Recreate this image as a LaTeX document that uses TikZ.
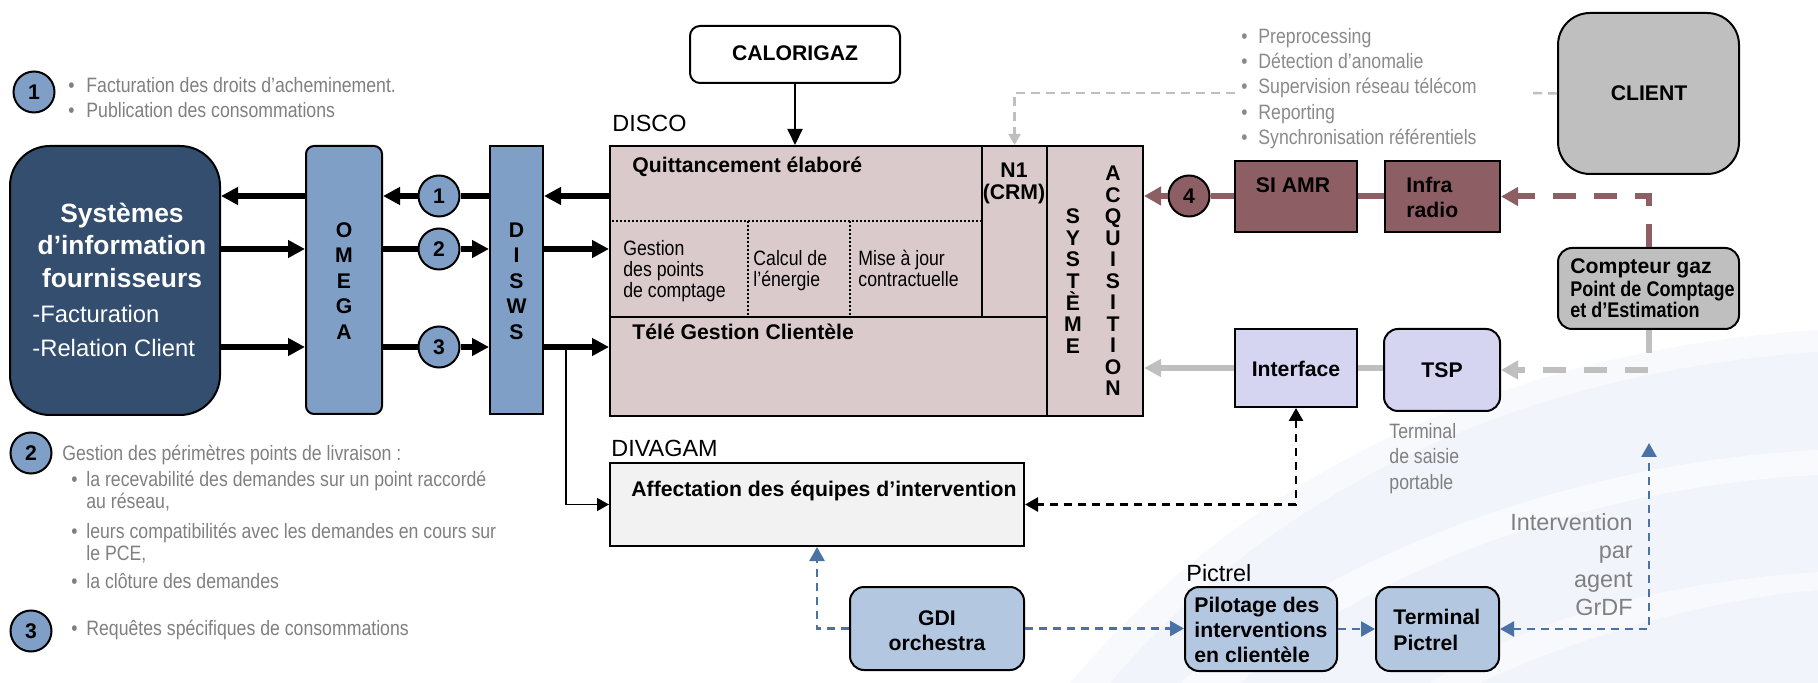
\documentclass[tikz,border=0pt]{standalone}
\usepackage{fontspec}
\setmainfont{Liberation Sans}
\newfontfamily\narrowfont[FakeStretch=0.85]{Liberation Sans}
\usetikzlibrary{arrows.meta,fit}

\definecolor{navy}{RGB}{52,78,112}
\definecolor{steel}{RGB}{127,159,198}
\definecolor{discofill}{RGB}{219,202,204}
\definecolor{mauve}{RGB}{142,94,101}
\definecolor{lavender}{RGB}{213,213,242}
\definecolor{silver}{RGB}{191,191,191}
\definecolor{paleblue}{RGB}{180,199,224}
\definecolor{dashblue}{RGB}{74,114,166}
\definecolor{txtgrey}{RGB}{128,128,128}
\definecolor{listgrey}{RGB}{138,138,138}
\definecolor{lightgrey}{RGB}{242,242,242}
\definecolor{bgblue}{RGB}{242,244,251}
\definecolor{bgedge}{RGB}{248,249,253}

\newcommand{\bul}[1]{\makebox[#1][l]{\textbullet}}

\begin{document}
\begin{tikzpicture}[x=0.5pt,y=-0.5pt,
  bx/.style={draw=black, line width=1pt, inner sep=0pt},
  bt/.style={font=\fontsize{10.6}{12.5}\selectfont\bfseries},
  nt/.style={font=\narrowfont\fontsize{10.4}{12.5}\selectfont},
  nbt/.style={font=\narrowfont\bfseries\fontsize{10.6}{12.5}\selectfont},
  lt/.style={font=\fontsize{11.7}{14}\selectfont},
  lbl/.style={inner sep=0pt, anchor=base west},
  cbl/.style={inner sep=0pt, anchor=base},
  vert/.style={inner sep=0pt, align=center, font=\fontsize{10.6}{#1}\selectfont\bfseries},
  num/.style={circle, draw=black, line width=1pt, minimum size=20.5pt, inner sep=0pt,
              font=\fontsize{10.6}{12}\selectfont\bfseries},
  fat/.style={line width=2.8pt},
  fathead/.style={-{Triangle[length=8.5pt,width=8.5pt]}},
  bluedash/.style={draw=dashblue, line width=1.3pt, dash pattern=on 4pt off 3pt},
  blackdash/.style={draw=black, line width=1.3pt, dash pattern=on 4pt off 3pt},
  greydash/.style={draw=silver, line width=1.2pt, dash pattern=on 4.5pt off 3pt},
  widedash/.style={line width=3pt, dash pattern=on 11.5pt off 9pt},
  dotline/.style={line width=0.9pt, dash pattern=on 0.9pt off 1.1pt}
]
\useasboundingbox (0,0) rectangle (1818,683);
\fill[white] (0,0) rectangle (1818,683);

% soft background swoosh (a pale rim, then the tinted body, then white streaks)
\fill[bgedge] (1070,683) .. controls (1250,470) and (1510,350) .. (1818,330) -- (1818,683) -- cycle;
\fill[bgblue] (1110,683) .. controls (1280,485) and (1525,372) .. (1818,352) -- (1818,683) -- cycle;
\fill[white, opacity=0.55] (1180,683) .. controls (1350,540) and (1600,460) .. (1818,450)
   -- (1818,475) .. controls (1610,485) and (1380,560) .. (1240,683) -- cycle;
\fill[white, opacity=0.5] (1430,683) .. controls (1540,610) and (1690,580) .. (1818,572)
   -- (1818,590) .. controls (1700,600) and (1570,640) .. (1480,683) -- cycle;

% ---------- legend, left ----------
\node[num, fill=steel] (k1) at (34,92) {1};
\node[lbl, nt, text=txtgrey] (k1a) at (68,92.3) {\bul{9pt}Facturation des droits d’acheminement.};
\node[lbl, nt, text=txtgrey] (k1b) at (68,118) {\bul{9pt}Publication des consommations};

\node[num, fill=steel] (k2) at (31,453) {2};
\node[lbl, nt, text=txtgrey] (k2a) at (62,460.7) {Gestion des périmètres points de livraison :};
\node[lbl, nt, text=txtgrey] (k2b) at (71,487) {\bul{7.5pt}la recevabilité des demandes sur un point raccordé};
\node[lbl, nt, text=txtgrey] (k2c) at (86,509) {au réseau,};
\node[lbl, nt, text=txtgrey] (k2d) at (71,538) {\bul{7.5pt}leurs compatibilités avec les demandes en cours sur};
\node[lbl, nt, text=txtgrey] (k2e) at (86,560) {le PCE,};
\node[lbl, nt, text=txtgrey] (k2f) at (71,588) {\bul{7.5pt}la clôture des demandes};

\node[num, fill=steel] (k3) at (31,631) {3};
\node[lbl, nt, text=txtgrey] (k3a) at (71,635) {\bul{7.5pt}Requêtes spécifiques de consommations};

% ---------- suppliers, OMEGA, DISWS ----------
\node[bx, fill=navy, rounded corners=20pt, fit={(10,146)(220,415)}] (sysinfo) {};
\node[cbl, text=white, font=\fontsize{13.2}{15}\selectfont\bfseries] (si1) at (122,223) {Systèmes};
\node[cbl, text=white, font=\fontsize{13.2}{15}\selectfont\bfseries] (si2) at (122,255) {d’information};
\node[cbl, text=white, font=\fontsize{13.2}{15}\selectfont\bfseries] (si3) at (122,288) {fournisseurs};
\node[lbl, text=white, font=\fontsize{11.9}{14}\selectfont] (si4) at (32,323) {-Facturation};
\node[lbl, text=white, font=\fontsize{11.9}{14}\selectfont] (si5) at (32,357) {-Relation Client};

\node[bx, fill=steel, rounded corners=4pt, fit={(306,146)(382,414)}] (omega) {};
\node[vert=12.75] (omegaT) at (344,281) {O\\M\\E\\G\\A};
\node[bx, fill=steel, fit={(490,146)(543,414)}] (disws) {};
\node[vert=12.75] (diswsT) at (516.5,281) {D\\I\\S\\W\\S};

\node[num, fill=steel] (c1) at (439,196) {1};
\node[num, fill=steel] (c2) at (439,249) {2};
\node[num, fill=steel] (c3) at (439,347) {3};

% ---------- CALORIGAZ and DISCO ----------
\node[bx, fill=white, rounded corners=5pt, fit={(690,26)(900,83)}] (calor) {};
\node[cbl, bt] (calorT) at (795,61) {CALORIGAZ};
\node[lbl, lt] (discolbl) at (612,131.7) {DISCO};
\node[bx, fill=discofill, fit={(610,146)(1143,416)}] (disco) {};
\node[bx, fit={(982,146)(1047,317)}] (n1) {};
\node[bx, fit={(1047,146)(1143,416)}] (acq) {};
\draw[line width=1pt] (610,317) -- (982,317);
\draw[dotline] (612,221) -- (982,221);
\draw[dotline] (748,221) -- (748,317);
\draw[dotline] (850,221) -- (850,317);

\node[lbl, bt] (quitt) at (632,172.7) {Quittancement élaboré};
\node[lbl, nt] (gest1) at (623,256) {Gestion};
\node[lbl, nt] (gest2) at (623,277) {des points};
\node[lbl, nt] (gest3) at (623,298) {de comptage};
\node[lbl, nt] (calc1) at (753,266) {Calcul de};
\node[lbl, nt] (calc2) at (753,287) {l’énergie};
\node[lbl, nt] (maj1) at (858,266) {Mise à jour};
\node[lbl, nt] (maj2) at (858,287) {contractuelle};
\node[lbl, bt] (tele) at (632,340) {Télé Gestion Clientèle};
\node[cbl, bt] (n1a) at (1014,178) {N1};
\node[cbl, bt] (n1b) at (1014,200) {(CRM)};
\node[vert=10.85] (sysv) at (1073,281) {S\\Y\\S\\T\\È\\M\\E};
\node[vert=10.75] (acqv) at (1113,281) {A\\C\\Q\\U\\I\\S\\I\\T\\I\\O\\N};

% ---------- right-hand list and client side ----------
\node[lbl, nt, text=listgrey] (r1) at (1241,43.3) {\bul{8.5pt}Preprocessing};
\node[lbl, nt, text=listgrey] (r2) at (1241,68.3) {\bul{8.5pt}Détection d’anomalie};
\node[lbl, nt, text=listgrey] (r3) at (1241,94) {\bul{8.5pt}Supervision réseau télécom};
\node[lbl, nt, text=listgrey] (r4) at (1241,120) {\bul{8.5pt}Reporting};
\node[lbl, nt, text=listgrey] (r5) at (1241,145) {\bul{8.5pt}Synchronisation référentiels};
\coordinate (lstW) at (1235,93);
\coordinate (lstE) at (1530,93);

\node[bx, fill=silver, rounded corners=16pt, fit={(1558,13)(1739,174)}] (client) {};
\node[cbl, bt] (clientT) at (1649,101) {CLIENT};
\node[bx, fill=silver, rounded corners=7pt, fit={(1558,248)(1739,329)}] (compteur) {};
\node[lbl, bt] (cg1) at (1570,274) {Compteur gaz};
\node[lbl, nbt] (cg2) at (1570,297) {Point de Comptage};
\node[lbl, nbt] (cg3) at (1570,318) {et d’Estimation};

\node[bx, fill=mauve, fit={(1235,161)(1357,232)}] (siamr) {};
\node[cbl, bt] (siamrT) at (1293,193) {SI AMR};
\node[bx, fill=mauve, fit={(1385,161)(1500,232)}] (infra) {};
\node[lbl, bt] (infra1) at (1406,193) {Infra};
\node[lbl, bt] (infra2) at (1406,218) {radio};
\node[num, fill=mauve] (c4) at (1189,196) {4};

\node[bx, fill=lavender, fit={(1235,329)(1357,407)}] (interface) {};
\node[cbl, bt] (interfaceT) at (1296,377) {Interface};
\node[bx, fill=lavender, rounded corners=7pt, fit={(1384,329)(1500,411)}] (tsp) {};
\node[cbl, bt] (tspT) at (1442,378) {TSP};
\node[lbl, nt, text=txtgrey] (tsp1) at (1389,438) {Terminal};
\node[lbl, nt, text=txtgrey] (tsp2) at (1389,464) {de saisie};
\node[lbl, nt, text=txtgrey] (tsp3) at (1389,489) {portable};

% ---------- DIVAGAM and field intervention ----------
\node[lbl, lt] (divlbl) at (611,457) {DIVAGAM};
\node[bx, fill=lightgrey, fit={(610,463)(1024,546)}] (divagam) {};
\node[lbl, bt] (affect) at (631,496) {Affectation des équipes d’intervention};

\node[bx, fill=paleblue, rounded corners=7pt, fit={(850,587)(1024,670)}] (gdi) {};
\node[cbl, bt] (gdi1) at (937,625) {GDI};
\node[cbl, bt] (gdi2) at (937,650) {orchestra};
\node[lbl, lt] (pictlbl) at (1186,581) {Pictrel};
\node[bx, fill=paleblue, rounded corners=7pt, fit={(1185,587)(1337,671)}] (pilot) {};
\node[lbl, bt] (pil1) at (1194,612) {Pilotage des};
\node[lbl, bt] (pil2) at (1194,637) {interventions};
\node[lbl, bt] (pil3) at (1194,662) {en clientèle};
\node[bx, fill=paleblue, rounded corners=7pt, fit={(1376,587)(1499,671)}] (termp) {};
\node[lbl, bt] (tp1) at (1393,624) {Terminal};
\node[lbl, bt] (tp2) at (1393,650) {Pictrel};

\node[inner sep=0pt, anchor=base east, lt, text=txtgrey] (ag1) at (1633,530) {Intervention};
\node[inner sep=0pt, anchor=base east, lt, text=txtgrey] (ag2) at (1633,558) {par};
\node[inner sep=0pt, anchor=base east, lt, text=txtgrey] (ag3) at (1633,587) {agent};
\node[inner sep=0pt, anchor=base east, lt, text=txtgrey] (ag4) at (1633,615) {GrDF};
\coordinate (agent) at (1649,443);

% ---------- connectors ----------
% suppliers <-> OMEGA
\draw[fat, fathead] (omega.west |- c1) -- (sysinfo.east |- c1);
\draw[fat, fathead] (sysinfo.east |- c2) -- (omega.west |- c2);
\draw[fat, fathead] (sysinfo.east |- c3) -- (omega.west |- c3);
% OMEGA <-> DISWS through the numbered flows
\draw[fat] (disws.west |- c1) -- (c1.east);
\draw[fat, fathead] (c1.west) -- (omega.east |- c1);
\draw[fat] (omega.east |- c2) -- (c2.west);
\draw[fat, fathead] (c2.east) -- (disws.west |- c2);
\draw[fat] (omega.east |- c3) -- (c3.west);
\draw[fat, fathead] (c3.east) -- (disws.west |- c3);
% DISWS <-> DISCO
\draw[fat, fathead] (disco.west |- c1) -- (disws.east |- c1);
\draw[fat, fathead] (disws.east |- c2) -- (disco.west |- c2);
\draw[fat, fathead] (disws.east |- c3) -- (disco.west |- c3);
% branch to DIVAGAM
\coordinate (branch) at (566,347);
\draw[line width=0.8pt, -{Triangle[length=6pt,width=6.5pt]}] (branch) |- (divagam.west);
% CALORIGAZ -> DISCO
\draw[line width=1pt, -{Triangle[length=8pt,width=7.5pt]}] (calor.south) -- (calor.south |- disco.north);
% client supervision -> N1
\draw[greydash] (client.west) -- (lstE);
\draw[greydash, -{Triangle[length=5.5pt,width=6pt]}] (lstW) -| (n1.north);
% AMR chain
\draw[mauve, line width=3pt] (c4.east -| siamr.west) -- (c4.east);
\draw[mauve, line width=3pt, -{Triangle[length=8.5pt,width=9pt]}] (c4.west) -- (c4.west -| disco.east);
\draw[mauve, line width=3pt] (siamr.east |- c4) -- (infra.west |- c4);
\draw[mauve, widedash, -{Triangle[length=8.5pt,width=9pt]}] (compteur.north) |- (infra.east);
% portable terminal chain
\draw[silver, line width=3.3pt, -{Triangle[length=8.5pt,width=8.5pt]}] (interface.west) -- (interface.west -| disco.east);
\draw[silver, line width=3.3pt] (interface.east) -- (tsp.west |- interface.east);
\draw[silver, widedash, -{Triangle[length=8.5pt,width=9pt]}] (compteur.south) |- (tsp.east);
% interface <-> DIVAGAM
\draw[blackdash, {Triangle[length=6.5pt,width=7pt]}-{Triangle[length=6.5pt,width=7pt]}] (interface.south) |- (divagam.east);
% intervention flows
\draw[bluedash, -{Triangle[length=7pt,width=7.5pt]}] (gdi.west) -| (divagam.south);
\draw[bluedash, -{Triangle[length=7pt,width=7.5pt]}] (gdi.east) -- (pilot.west |- gdi.east);
\draw[bluedash, -{Triangle[length=7pt,width=7.5pt]}] (pilot.east) -- (termp.west |- pilot.east);
\draw[bluedash, {Triangle[length=7pt,width=7.5pt]}-{Triangle[length=7pt,width=7.5pt]}] (termp.east) -| (agent);
\end{tikzpicture}
\end{document}
